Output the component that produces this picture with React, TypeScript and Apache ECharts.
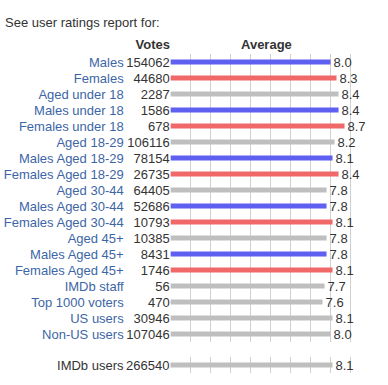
import React, { useEffect, useRef } from "react";
import * as echarts from "echarts";

const categories = [
  "Males",
  "Females",
  "Aged under 18",
  "Males under 18",
  "Females under 18",
  "Aged 18-29",
  "Males Aged 18-29",
  "Females Aged 18-29",
  "Aged 30-44",
  "Males Aged 30-44",
  "Females Aged 30-44",
  "Aged 45+",
  "Males Aged 45+",
  "Females Aged 45+",
  "IMDb staff",
  "Top 1000 voters",
  "US users",
  "Non-US users",
];
const votes = [
  154062, 44680, 2287, 1586, 678, 106116, 78154, 26735, 64405, 52686, 10793,
  10385, 8431, 1746, 56, 470, 30946, 107046,
];
const averages = [
  8.0, 8.3, 8.4, 8.4, 8.7, 8.2, 8.1, 8.4, 7.8, 7.8, 8.1, 7.8, 7.8, 8.1, 7.7,
  7.6, 8.1, 8.0,
];
const groups = [
  "male", "female", "all", "male", "female", "all", "male", "female", "all",
  "male", "female", "all", "male", "female", "all", "all", "all", "all",
];
const totalCategory = ["IMDb users"];
const totalVotes = [266540];
const totalAverage = [8.1];

const COLORS: Record<string, string> = {
  male: "#5f5ff2",
  female: "#f06868",
  all: "#bfbfbf",
};
const FONT = "'Liberation Sans', Arial, sans-serif";
const FS = 13;

export default function App() {
  const ref = useRef<HTMLDivElement>(null);
  useEffect(() => {
    if (!ref.current) return;
    const chart = echarts.init(ref.current, null, { renderer: "svg" });
    const xAxisBase = (gridIndex: number) => ({
      type: "value" as const,
      gridIndex,
      min: 0,
      max: 10,
      interval: 1,
      axisLine: { show: false },
      axisTick: { show: false },
      axisLabel: { show: false },
      splitLine: {
        show: true,
        showMinLine: false,
        showMaxLine: false,
        lineStyle: { color: "#d0d0d0", width: 1 },
      },
    });
    const catAxis = (gridIndex: number, data: string[], margin: number, color: string, inverse: boolean) => ({
      type: "category" as const,
      gridIndex,
      position: "left" as const,
      data,
      inverse,
      axisLine: { show: false },
      axisTick: { show: false },
      axisLabel: { interval: 0, margin, color, fontSize: FS, fontFamily: FONT },
    });
    const labelStyle = {
      show: true,
      position: "right" as const,
      distance: 3,
      color: "#333",
      fontSize: FS,
      fontFamily: FONT,
      formatter: (p: any) => Number(p.value).toFixed(1),
    };
    chart.setOption({
      animation: false,
      textStyle: { fontFamily: FONT },
      title: {
        text: "See user ratings report for:",
        left: 0,
        top: 11,
        textStyle: { fontSize: FS, fontWeight: "normal", color: "#333", fontFamily: FONT },
      },
      graphic: [
        {
          type: "text",
          right: 388 - 170,
          top: 38,
          style: { text: "Votes", fontSize: FS, fontWeight: "bold", fill: "#333", fontFamily: FONT },
        },
        {
          type: "text",
          left: 241,
          top: 38,
          style: { text: "Average", fontSize: FS, fontWeight: "bold", fill: "#333", fontFamily: FONT },
        },
      ],
      grid: [
        { left: 170.5, width: 200, top: 54, height: 288 },
        { left: 170.5, width: 200, top: 357, height: 16 },
      ],
      xAxis: [xAxisBase(0), xAxisBase(1)],
      yAxis: [
        catAxis(0, categories, 47, "#3d66a6", true),
        catAxis(0, votes.map(String), 1, "#333", true),
        catAxis(1, totalCategory, 47, "#333", false),
        catAxis(1, totalVotes.map(String), 1, "#333", false),
      ],
      series: [
        {
          type: "bar",
          xAxisIndex: 0,
          yAxisIndex: 0,
          barWidth: 5,
          data: averages.map((v, i) => ({
            value: v,
            itemStyle: { color: COLORS[groups[i]] },
          })),
          label: labelStyle,
        },
        {
          type: "bar",
          xAxisIndex: 1,
          yAxisIndex: 2,
          barWidth: 5,
          data: totalAverage.map((v) => ({ value: v, itemStyle: { color: COLORS.all } })),
          label: labelStyle,
        },
      ],
    });
    return () => chart.dispose();
  }, []);
  return (
    <div
      ref={ref}
      style={{ position: "absolute", left: 0, top: 0, width: 388, height: 385 }}
    />
  );
}
